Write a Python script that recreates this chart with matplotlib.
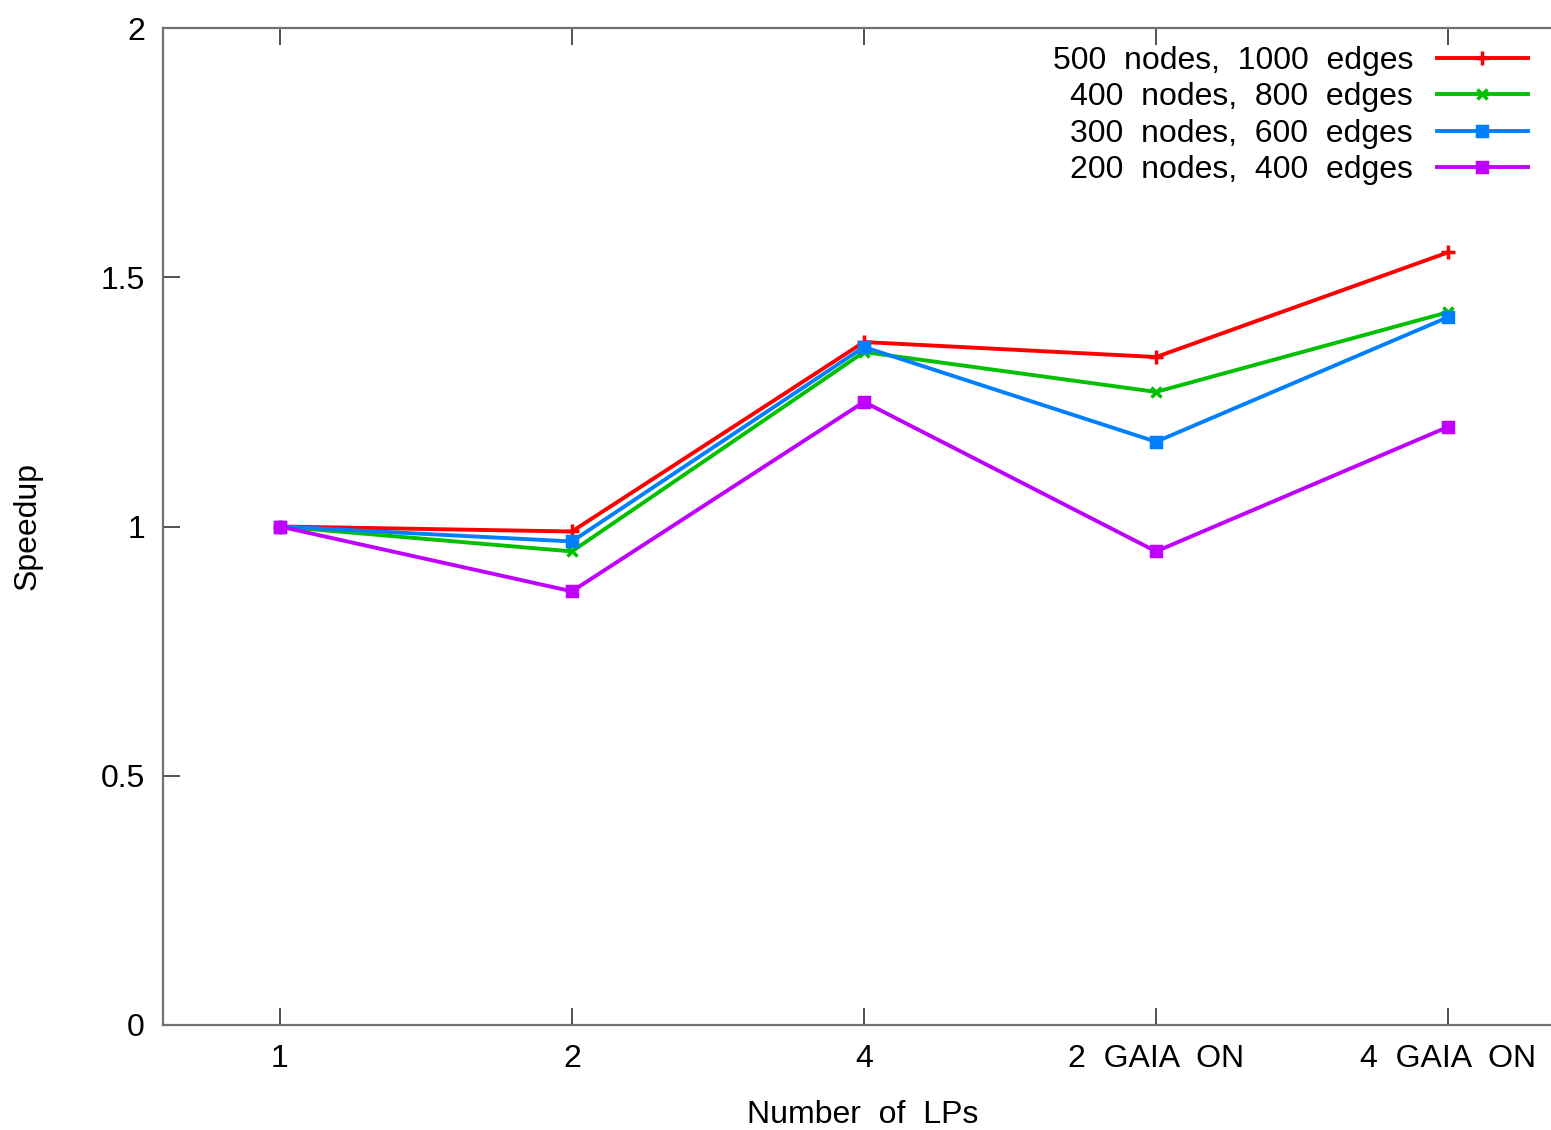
import matplotlib
matplotlib.use("Agg")
import matplotlib.pyplot as plt

plt.rcParams['font.family'] = ['Liberation Sans', 'DejaVu Sans']

kategoriler = ["1", "2", "4", "2  GAIA  ON", "4  GAIA  ON"]
etiketler = ["500  nodes,  1000  edges", "400  nodes,  800  edges",
             "300  nodes,  600  edges", "200  nodes,  400  edges"]
s500 = [1.0, 0.99, 1.37, 1.34, 1.55]
s400 = [1.0, 0.95, 1.35, 1.27, 1.43]
s300 = [1.0, 0.97, 1.36, 1.17, 1.42]
s200 = [1.0, 0.87, 1.25, 0.95, 1.20]

renkler = ["#ff0000", "#00c000", "#0080ff", "#c000ff"]
isaretler = ["+", "x", "s", "s"]
boyutlar = [10, 7, 7, 7]

fig = plt.figure(figsize=(15.51, 11.30), dpi=100)
ax = fig.add_axes([163/1551, 1-1025/1130, (1565-163)/1551, (1025-28)/1130])

x = list(range(len(kategoriler)))
for seri, renk, isr, bt, ad in zip([s500, s400, s300, s200], renkler, isaretler, boyutlar, etiketler):
    ax.plot(x, seri, color=renk, lw=2.8, marker=isr, ms=bt, mew=2.5, label=ad)

ax.set_xlim(-0.4, 4.4)
ax.set_ylim(0, 2)
ax.set_xticks(x)
ax.set_xticklabels(kategoriler)
ax.set_yticks([0, 0.5, 1, 1.5, 2])
ax.set_yticklabels(["0", "0.5", "1", "1.5", "2"])

for sp in ax.spines.values():
    sp.set_color("#707070")
    sp.set_linewidth(1.6)
ax.spines["right"].set_visible(False)

ax.tick_params(direction="in", length=12, width=1.2, color="#333333",
               labelsize=23, top=True, right=False)
ax.tick_params(axis="x", pad=14)
ax.tick_params(axis="y", pad=13)

ax.set_xlabel("Number  of  LPs", fontsize=23)
ax.xaxis.set_label_coords((863-163)/(1565-163), -(1115-1025)/997, transform=ax.transAxes)
ax.xaxis.label.set_va("center")
ax.set_ylabel("Speedup", fontsize=23)
ax.yaxis.set_label_coords(-(163-28)/(1565-163), 0.5)
ax.yaxis.label.set_va("center")

leg = ax.legend(loc="upper right", bbox_to_anchor=(1528/1551, 1-46/1130),
                bbox_transform=fig.transFigure, frameon=False, markerfirst=False,
                fontsize=23, handlelength=2.85, labelspacing=0.2, borderpad=0,
                borderaxespad=0, handletextpad=0.75)
for t in leg.get_texts():
    t.set_ha("right")
leg._legend_box.align = "right"

fig.savefig("out.png", dpi=100)
